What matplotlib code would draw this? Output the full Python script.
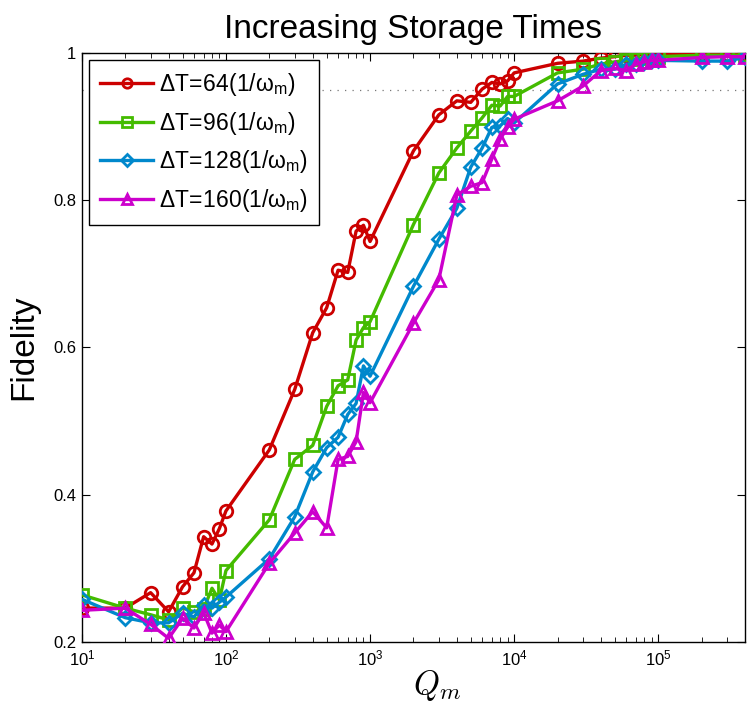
import numpy as np
import matplotlib
matplotlib.use('Agg')
import matplotlib.pyplot as plt
from matplotlib.ticker import FuncFormatter, FixedLocator

plt.rcParams['font.family'] = ['Liberation Sans', 'DejaVu Sans']
plt.rcParams['mathtext.fontset'] = 'cm'

# Q_m values
qm = [10, 20, 30, 40, 50, 60, 70, 80, 90, 100,
      200, 300, 400, 500, 600, 700, 800, 900, 1000,
      2000, 3000, 4000, 5000, 6000, 7000, 8000, 9000, 10000,
      20000, 30000, 40000, 50000, 60000, 70000, 80000, 90000, 100000,
      200000, 300000, 400000]

fid_64 = [0.246, 0.246, 0.267, 0.241, 0.275, 0.294, 0.343, 0.333, 0.354, 0.378,
          0.461, 0.543, 0.620, 0.654, 0.705, 0.702, 0.758, 0.766, 0.744,
          0.867, 0.916, 0.935, 0.933, 0.951, 0.960, 0.958, 0.962, 0.973,
          0.986, 0.989, 0.993, 0.995, 0.997, 0.997, 0.998, 0.998, 0.998,
          0.998, 0.998, 0.998]
fid_96 = [0.264, 0.246, 0.237, 0.230, 0.246, 0.241, 0.245, 0.273, 0.257, 0.297,
          0.366, 0.448, 0.467, 0.520, 0.548, 0.556, 0.610, 0.627, 0.635,
          0.767, 0.837, 0.871, 0.894, 0.912, 0.929, 0.928, 0.941, 0.941,
          0.973, 0.978, 0.985, 0.988, 0.990, 0.992, 0.993, 0.994, 0.995,
          0.997, 0.997, 0.997]
fid_128 = [0.258, 0.233, 0.226, 0.226, 0.239, 0.234, 0.250, 0.246, 0.254, 0.261,
           0.313, 0.370, 0.431, 0.464, 0.478, 0.509, 0.524, 0.575, 0.561,
           0.683, 0.747, 0.789, 0.845, 0.871, 0.899, 0.901, 0.911, 0.905,
           0.958, 0.971, 0.978, 0.978, 0.985, 0.985, 0.988, 0.990, 0.990,
           0.989, 0.989, 0.994]
fid_160 = [0.243, 0.246, 0.224, 0.205, 0.232, 0.219, 0.240, 0.212, 0.223, 0.214,
           0.307, 0.348, 0.377, 0.355, 0.448, 0.452, 0.472, 0.539, 0.525,
           0.633, 0.692, 0.807, 0.819, 0.824, 0.856, 0.883, 0.899, 0.910,
           0.935, 0.955, 0.976, 0.979, 0.976, 0.985, 0.988, 0.990, 0.990,
           0.994, 0.995, 0.995]

series = [
    (fid_64, r'$\mathregular{\Delta T\!=\!64(1/\omega_m)}$', '#cc0000', 'o'),
    (fid_96, r'$\mathregular{\Delta T\!=\!96(1/\omega_m)}$', '#44bb00', 's'),
    (fid_128, r'$\mathregular{\Delta T\!=\!128(1/\omega_m)}$', '#0088cc', 'D'),
    (fid_160, r'$\mathregular{\Delta T\!=\!160(1/\omega_m)}$', '#cc00cc', '^'),
]

fig = plt.figure(figsize=(7.51, 7.02), dpi=100)
ax = fig.add_axes([0.109, 0.0855, 0.883, 0.839])

ax.axhline(0.95, color='#777777', ls=(0, (1, 5)), lw=0.9, zorder=1)

for vals, lab, col, mk in series:
    ms = 9 if mk != 'D' else 7.5
    ax.plot(qm, vals, color=col, marker=mk, ms=ms, mfc='none', mec=col,
            mew=2.0, lw=2.4, label=lab, zorder=3)

ax.set_xscale('log')
ax.set_xlim(10, 4e5)
ax.set_ylim(0.2, 1.0)
ax.set_yticks([0.2, 0.4, 0.6, 0.8, 1.0])
ax.set_yticklabels(['0.2', '0.4', '0.6', '0.8', '1'])
ax.xaxis.set_major_locator(FixedLocator([1e1, 1e2, 1e3, 1e4, 1e5]))
ax.xaxis.set_major_formatter(FuncFormatter(
    lambda v, p: r'$\mathregular{10^{%d}}$' % int(round(np.log10(v)))))
ax.tick_params(which='both', direction='in', top=True, right=True, labelsize=12)
ax.tick_params(which='major', length=6, width=0.8)
ax.tick_params(which='minor', length=3.5, width=0.6)
ax.tick_params(axis='x', pad=5)
ax.tick_params(axis='y', pad=4)
for s in ax.spines.values():
    s.set_linewidth(1.0)

ax.set_title('Increasing Storage Times', fontsize=24, pad=11)
ax.set_ylabel('Fidelity', fontsize=24, labelpad=10)
ax.set_xlabel(r'$Q_m$', fontsize=24)
ax.xaxis.set_label_coords(0.535, -0.045)

leg = ax.legend(loc='upper left', fontsize=16.5, frameon=True, fancybox=False,
                edgecolor='black', framealpha=1, handlelength=2.3,
                borderaxespad=0.3, labelspacing=0.5, borderpad=0.5,
                handletextpad=0.25, markerscale=0.75)
leg.get_frame().set_linewidth(1.0)

fig.savefig('out.png', dpi=100)
